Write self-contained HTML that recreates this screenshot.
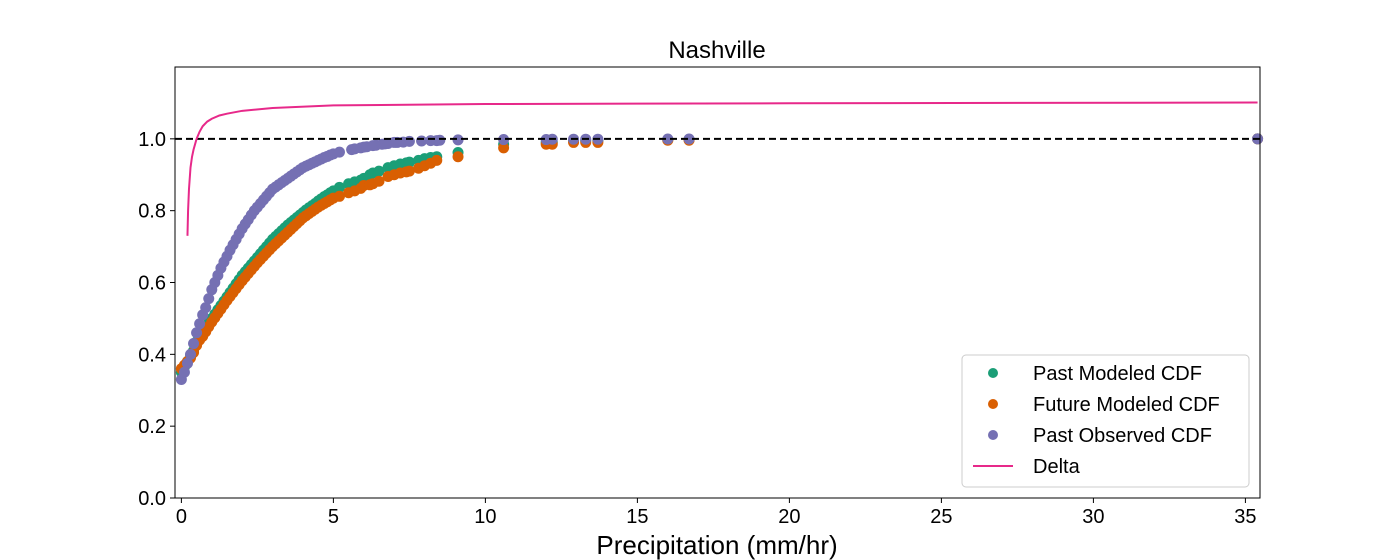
<!DOCTYPE html>
<html><head><meta charset="utf-8"><style>
body{margin:0;background:#fff}
svg{display:block;font-family:"Liberation Sans",Arial,sans-serif}
</style></head><body>
<svg id="c" width="1400" height="560"></svg>
<script>
const lowX=[0,0.1,0.2,0.3,0.4,0.5,0.6,0.7,0.8,0.9,1,1.1,1.2,1.3,1.4,1.5,1.6,1.7,1.8,1.9,2,2.1,2.2,2.3,2.4,2.5,2.6,2.7,2.8,2.9,3,3.1,3.2,3.3,3.4,3.5,3.6,3.7,3.8,3.9,4,4.1,4.2,4.3,4.4,4.5,4.6,4.7,4.8,4.9,5];
const obsTailX=[5.2,5.6,5.7,5.9,6.0,6.1,6.3,6.4,6.6,6.7,6.8,7,7.1,7.3,7.5,7.9,8.2,8.4,8.5,9.1,10.6,12,12.2,12.9,13.3,13.7,16,16.7,35.4];
const modTailX=[5.2,5.5,5.7,5.9,6,6.2,6.3,6.5,6.8,7.0,7.2,7.4,7.5,7.8,8,8.2,8.4,9.1,10.6,12,12.2,12.9,13.3,13.7,16,16.7,35.4];
const obsY=[0.33,0.35,0.375,0.40,0.43,0.46,0.485,0.51,0.53,0.555,0.58,0.60,0.62,0.64,0.657,0.673,0.69,0.705,0.72,0.735,0.75,0.763,0.775,0.788,0.80,0.81,0.82,0.83,0.84,0.85,0.86,0.866,0.872,0.878,0.884,0.89,0.896,0.902,0.908,0.914,0.92,0.924,0.928,0.932,0.936,0.94,0.944,0.948,0.951,0.955,0.958,
 0.963,0.97,0.972,0.975,0.977,0.978,0.981,0.982,0.985,0.986,0.987,0.99,0.99,0.991,0.993,0.994,0.995,0.995,0.996,0.997,0.998,0.998,0.999,0.999,0.999,0.999,0.9995,0.9995,1.0];
const pmY=[0.35,0.365,0.38,0.395,0.41,0.435,0.45,0.46,0.475,0.487,0.50,0.512,0.524,0.536,0.548,0.56,0.572,0.584,0.596,0.608,0.62,0.63,0.64,0.65,0.66,0.67,0.68,0.69,0.70,0.71,0.72,0.728,0.736,0.744,0.752,0.76,0.767,0.774,0.781,0.788,0.795,0.802,0.808,0.814,0.82,0.827,0.833,0.839,0.844,0.85,0.855,
 0.865,0.875,0.88,0.885,0.89,0.9,0.905,0.91,0.92,0.925,0.93,0.933,0.935,0.94,0.945,0.948,0.95,0.962,0.985,0.99,0.99,0.995,0.995,0.995,0.997,0.998,1.0];
const fmY=[0.36,0.37,0.38,0.39,0.405,0.425,0.44,0.45,0.463,0.477,0.49,0.502,0.514,0.526,0.538,0.55,0.561,0.572,0.583,0.594,0.605,0.615,0.625,0.635,0.645,0.655,0.664,0.673,0.682,0.691,0.70,0.708,0.716,0.724,0.732,0.74,0.748,0.756,0.764,0.772,0.78,0.786,0.792,0.798,0.804,0.81,0.815,0.82,0.825,0.83,0.835,
 0.84,0.85,0.855,0.862,0.87,0.872,0.875,0.882,0.895,0.9,0.905,0.908,0.91,0.918,0.925,0.932,0.94,0.95,0.975,0.985,0.985,0.99,0.99,0.99,0.996,0.996,1.0];
const dX=[0.2,0.22,0.25,0.3,0.35,0.4,0.5,0.6,0.7,0.85,1,1.25,1.5,2,3,5,10,20,35.4];
const dY=[0.73,0.80,0.86,0.92,0.95,0.97,1.0,1.02,1.035,1.048,1.056,1.065,1.07,1.078,1.086,1.093,1.097,1.099,1.101];
const xTicks=[0,5,10,15,20,25,30,35];
const yTicks=[0,0.2,0.4,0.6,0.8,1.0];

const L=175,R=1260,T=67,B=498,xmin=-0.21,xmax=35.48,ymin=0,ymax=1.2;
const sx=v=>L+(v-xmin)/(xmax-xmin)*(R-L);
const sy=v=>B-(v-ymin)/(ymax-ymin)*(B-T);
const svg=document.getElementById('c');
const NS='http://www.w3.org/2000/svg';
function mk(tag,at,parent){const e=document.createElementNS(NS,tag);for(const k in at)e.setAttribute(k,at[k]);(parent||svg).appendChild(e);return e;}
const g=mk('g',{});


function series(xs,ys,color,name){
  const s=mk('g',{fill:color},g);
  
  
  xs.forEach((x,i)=>{const c=mk('circle',{cx:sx(x),cy:sy(ys[i]),r:5.5},s);
    
    });
}
series(lowX.concat(modTailX),pmY,'#1b9e77','past-modeled-cdf');
series(lowX.concat(modTailX),fmY,'#d95f02','future-modeled-cdf');
series(lowX.concat(obsTailX),obsY,'#7570b3','past-observed-cdf');
const ref=mk('line',{x1:L,x2:R,y1:sy(1),y2:sy(1),stroke:'#000','stroke-width':2,'stroke-dasharray':'7,4'},g);


const dl=mk('polyline',{points:dX.map((x,i)=>sx(x)+','+sy(dY[i])).join(' '),fill:'none',stroke:'#e7298a','stroke-width':2},g);


const fr=mk('rect',{x:L,y:T,width:R-L,height:B-T,fill:'none',stroke:'#000','stroke-width':1});


xTicks.forEach(v=>{const x=sx(v);mk('line',{x1:x,x2:x,y1:B,y2:B+5,stroke:'#000'});
  const t=mk('text',{x:x,y:B+25,'text-anchor':'middle','font-size':20});t.textContent=v;
  
  });
yTicks.forEach(v=>{const y=sy(v);mk('line',{x1:L-5,x2:L,y1:y,y2:y,stroke:'#000'});
  const t=mk('text',{x:L-9,y:y+7,'text-anchor':'end','font-size':20});t.textContent=v.toFixed(1);
  
  });
const ti=mk('text',{x:717,y:58,'text-anchor':'middle','font-size':24});ti.textContent='Nashville';


const xl=mk('text',{x:717,y:554,'text-anchor':'middle','font-size':26});xl.textContent='Precipitation (mm/hr)';


const lg=mk('g',{});


mk('rect',{x:962,y:355,width:287,height:132,rx:4,fill:'#fff','fill-opacity':0.8,stroke:'#ccc'},lg);
const items=[['Past Modeled CDF','#1b9e77','c'],['Future Modeled CDF','#d95f02','c'],['Past Observed CDF','#7570b3','c'],['Delta','#e7298a','l']];
items.forEach((it,i)=>{const y=373+i*31;
  if(it[2]=='c')mk('circle',{cx:993,cy:y,r:5,fill:it[1]},lg);else mk('line',{x1:973,x2:1013,y1:y,y2:y,stroke:it[1],'stroke-width':2},lg);
  const t=mk('text',{x:1033,y:y+7,'font-size':20},lg);t.textContent=it[0];
  
  });
</script>
</body></html>
